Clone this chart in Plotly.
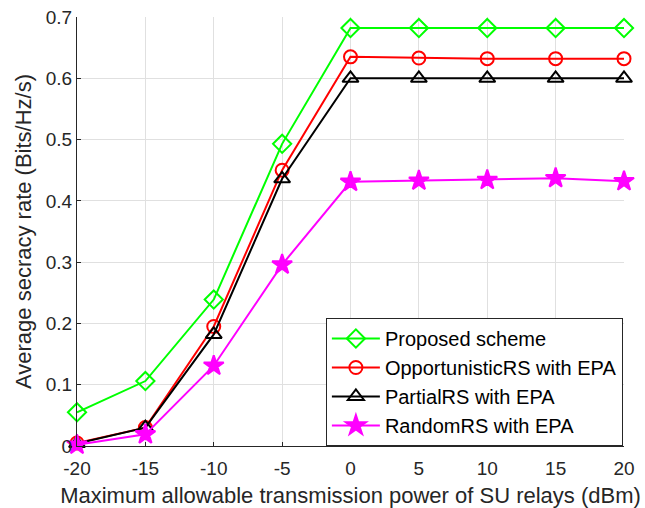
import plotly.graph_objects as go

x_dbm = [-20, -15, -10, -5, 0, 5, 10, 15, 20]
x_ticktext = ["-20", "-15", "-10", "-5", "0", "5", "10", "15", "20"]
y_ticks = [0, 0.1, 0.2, 0.3, 0.4, 0.5, 0.6, 0.7]
y_ticktext = ["0", "0.1", "0.2", "0.3", "0.4", "0.5", "0.6", "0.7"]
proposed = [0.055, 0.106, 0.239, 0.493, 0.682, 0.682, 0.682, 0.682, 0.682]
opportunistic = [0.005, 0.030, 0.195, 0.450, 0.635, 0.633, 0.632, 0.632, 0.632]
partial = [0.004, 0.030, 0.182, 0.436, 0.600, 0.600, 0.600, 0.600, 0.600]
random_rs = [0.002, 0.019, 0.131, 0.296, 0.431, 0.433, 0.434, 0.437, 0.432]

series = [
    ("Proposed scheme", proposed, "#00ff00", "diamond-open", 14),
    ("OpportunisticRS with EPA", opportunistic, "#ff0000", "circle-open", 13),
    ("PartialRS with EPA", partial, "#000000", "triangle-up-open", 14),
    ("RandomRS with EPA", random_rs, "#ff00ff", "star", 15),
]

fig = go.Figure()
for name, vals, color, sym, sz in series:
    fig.add_trace(go.Scatter(
        x=x_dbm, y=vals, name=name, mode="lines+markers",
        line=dict(color=color, width=2),
        marker=dict(symbol=sym, size=sz, color=color,
                    line=dict(color=color, width=2)),
        cliponaxis=False,
    ))

font_family = "Liberation Sans, Arial, sans-serif"
fig.update_layout(
    width=645, height=508,
    margin=dict(l=77, r=21, t=17, b=62),
    plot_bgcolor="white", paper_bgcolor="white",
    font=dict(family=font_family, color="#262626", size=19),
    showlegend=True,
    legend=dict(x=0.455, y=0, xanchor="left", yanchor="bottom",
                bgcolor="white", bordercolor="#262626", borderwidth=1,
                font=dict(size=20, color="black"), tracegroupgap=0,
                itemwidth=48),
    xaxis=dict(range=[-20, 20], tickvals=x_dbm, ticktext=x_ticktext,
               automargin=False,
               showgrid=True, gridcolor="#e0e0e0",
               showline=True, linecolor="#262626", linewidth=1, zeroline=False,
               ticks="inside", ticklen=4, tickcolor="#262626",
               tickfont=dict(size=19), ticklabelstandoff=5,
               title=dict(text="Maximum allowable transmission power of SU relays (dBm)",
                          font=dict(size=22), standoff=10)),
    yaxis=dict(range=[0, 0.7], tickvals=y_ticks, ticktext=y_ticktext,
               automargin=False,
               showgrid=True, gridcolor="#e0e0e0",
               showline=True, linecolor="#262626", linewidth=1, zeroline=False,
               ticks="inside", ticklen=4, tickcolor="#262626",
               tickfont=dict(size=19),
               title=dict(text="Average secracy rate (Bits/Hz/s)",
                          font=dict(size=22), standoff=8)),
)

fig.write_html("out.html")
